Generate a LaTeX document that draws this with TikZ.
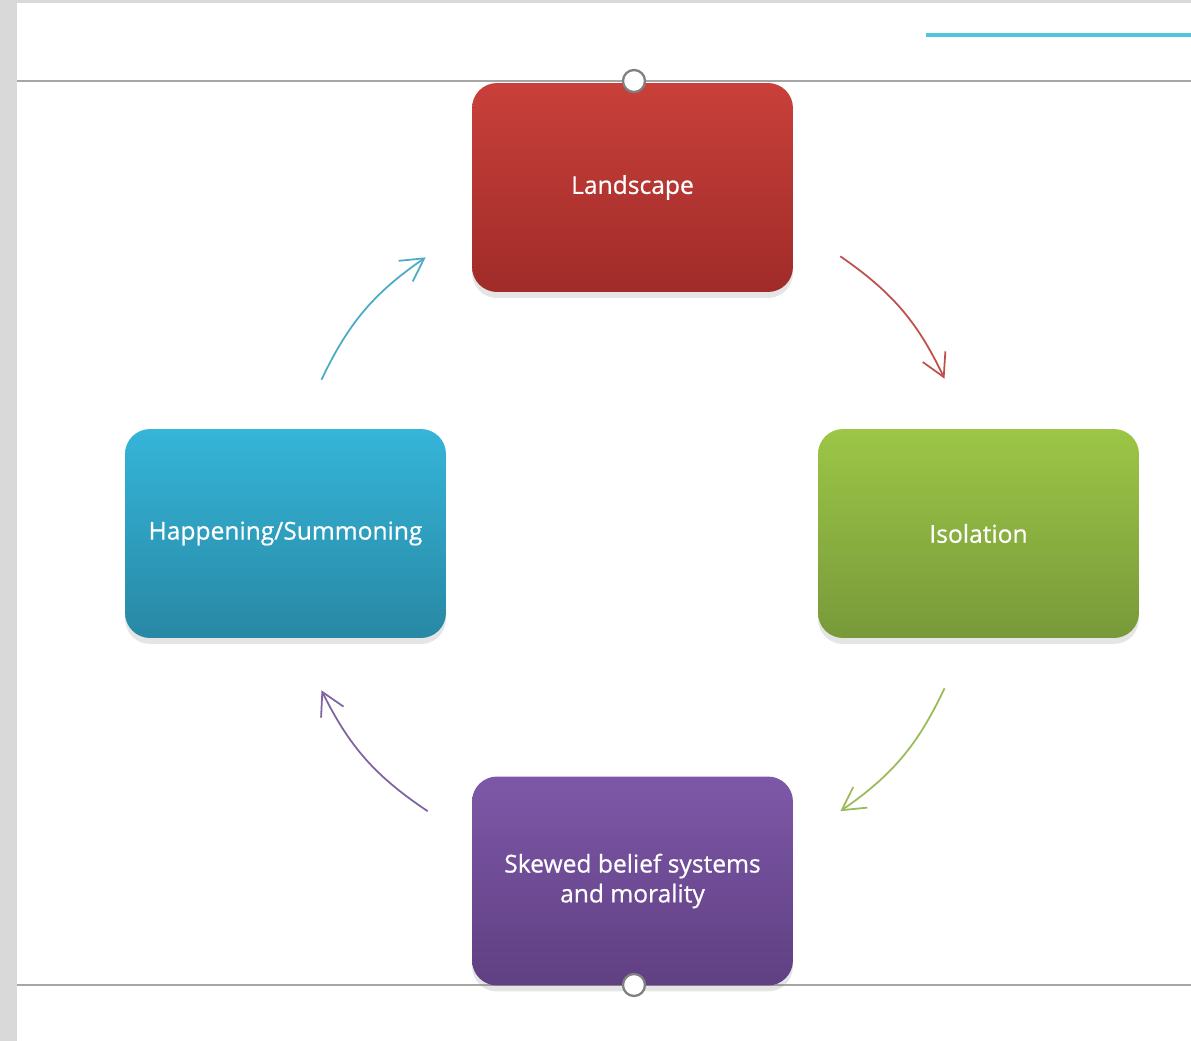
\documentclass[tikz,border=0pt]{standalone}
\usepackage{fontspec}
\setsansfont{Open Sans}
\newfontfamily\stagefont{Open Sans}[FakeBold=0.6]
\usetikzlibrary{arrows.meta,shadows}

\definecolor{landtop}{HTML}{C9403A}
\definecolor{landbot}{HTML}{A02B29}
\definecolor{isotop}{HTML}{9CC646}
\definecolor{isobot}{HTML}{78993A}
\definecolor{haptop}{HTML}{35B5D9}
\definecolor{hapbot}{HTML}{2888A4}
\definecolor{skewtop}{HTML}{7D58A8}
\definecolor{skewbot}{HTML}{603F82}
\definecolor{redarrow}{HTML}{C0504D}
\definecolor{greenarrow}{HTML}{9BBB59}
\definecolor{purplearrow}{HTML}{8064A2}
\definecolor{cyanarrow}{HTML}{4BACC6}
\definecolor{slidegray}{HTML}{D9D9D9}
\definecolor{rulegray}{HTML}{A6A6A6}
\definecolor{accent}{HTML}{4FC6DC}

\begin{document}
\begin{tikzpicture}[x=0.02cm, y=-0.02cm,
        stage/.style={rounded corners=0.5cm, minimum width=6.42cm, minimum height=4.18cm,
            text=white, align=center, font=\stagefont\fontsize{14}{17}\selectfont,
            drop shadow={shadow xshift=0pt, shadow yshift=-0.12cm, opacity=0.2}},
        flow/.style={line width=1pt, -{Straight Barb[length=0.45cm, width=0.5cm]}, bend left=15},
        handle/.style={circle, draw=gray, line width=1.3pt, fill=white, minimum size=0.44cm, inner sep=0pt}]
    \useasboundingbox (0, 0) rectangle (1191, 1041);

    % slide background
    \fill[slidegray] (0, 0) rectangle (1191, 1041);
    \fill[white] (17, 3) rectangle (1191, 1041);
    \draw[accent, line width=2.6pt] (926, 35) -- (1191, 35);
    \draw[rulegray, line width=1.2pt] (17, 81) -- (1191, 81);
    \draw[rulegray, line width=1.2pt] (17, 985) -- (1191, 985);

    % stages
    \node[stage, top color=landtop, bottom color=landbot] (land) at (632.5, 187.5) {Landscape};
    \node[stage, top color=isotop, bottom color=isobot] (iso) at (978.5, 533.5) {Isolation};
    \node[stage, top color=haptop, bottom color=hapbot] (hap) at (285.5, 533.5) {Happening/Summoning};
    \node[stage, top color=skewtop, bottom color=skewbot] (skew) at (632.5, 881) {Skewed belief systems\\and morality};

    % cycle
    \draw[flow, redarrow] ([shift={(47, -36)}]land.south east) to ([shift={(-34, -50)}]iso.north);
    \draw[flow, greenarrow] ([shift={(-34, 50)}]iso.south) to ([shift={(47, 35)}]skew.north east);
    \draw[flow, purplearrow] ([shift={(-44, 35)}]skew.north west) to ([shift={(36, 52)}]hap.south);
    \draw[flow, cyanarrow] ([shift={(36, -49)}]hap.north) to ([shift={(-46, -35)}]land.south west);

    % handles
    \node[handle] (htop) at (634, 81) {};
    \node[handle] (hbot) at (634, 985) {};
\end{tikzpicture}
\end{document}
